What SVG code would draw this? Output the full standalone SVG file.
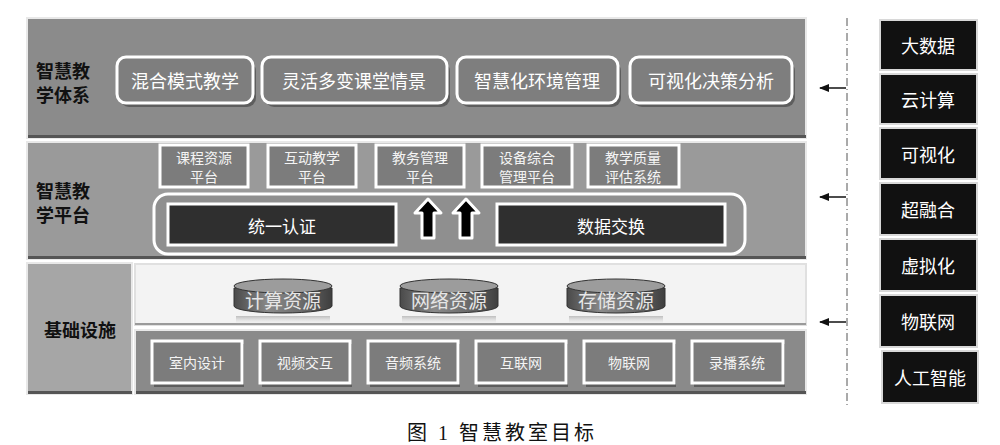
<svg xmlns="http://www.w3.org/2000/svg" width="1000" height="445" viewBox="0 0 1000 445">
<defs>
<style>
.t{font-family:"Noto Sans CJK SC","Noto Sans",sans-serif;text-anchor:middle;dominant-baseline:central}
.lbl{font-family:"Noto Sans CJK SC",sans-serif;font-weight:bold;font-size:18px;fill:#111}
.btn{fill:#7e7e7e;stroke:#fff;stroke-width:3}
.sh{fill:#3a3a3a;opacity:0.55}
.btxt{fill:#fff;font-size:18px}
.sbox{fill:#7c7c7c;stroke:#fff;stroke-width:3}
.stxt{fill:#f4f4f4;font-size:14px}
.dark{fill:#2f2f2f;stroke:#fff;stroke-width:3}
.dtxt{fill:#fff;font-size:17px}
.blk{fill:#111;stroke:#d8d8d8;stroke-width:2}
.ktxt{fill:#fff;font-size:18px}
.cyl-text{fill:#e6e6e6;font-size:19px}
</style>
<linearGradient id="cylg" x1="0" y1="0" x2="1" y2="0">
<stop offset="0" stop-color="#4a4a4a"/>
<stop offset="0.35" stop-color="#8a8a8a"/>
<stop offset="0.7" stop-color="#6a6a6a"/>
<stop offset="1" stop-color="#3e3e3e"/>
</linearGradient>
<linearGradient id="refl" x1="0" y1="0" x2="0" y2="1">
<stop offset="0" stop-color="#9a9a9a" stop-opacity="0.6"/>
<stop offset="1" stop-color="#dcdcdc" stop-opacity="0"/>
</linearGradient>
<marker id="ah" viewBox="0 0 10 10" refX="9" refY="5" markerWidth="7" markerHeight="7" orient="auto">
<path d="M0,1 L10,5 L0,9 Z" fill="#111"/>
</marker>
</defs>

<!-- section backgrounds -->
<g id="layer-top">
<rect x="27" y="18" width="779" height="120" fill="#8b8b8b" stroke="#e8e8e8" stroke-width="2"/>
<rect x="28" y="135" width="778" height="3" fill="#555"/>
<text class="lbl" x="36" y="70" dominant-baseline="central">智慧教</text>
<text class="lbl" x="36" y="94" dominant-baseline="central">学体系</text>
</g>
<g id="layer-mid">
<rect x="27" y="142" width="779" height="117" fill="#9a9a9a" stroke="#e8e8e8" stroke-width="2"/>
<rect x="28" y="256" width="778" height="3" fill="#555"/>
<text class="lbl" x="36" y="190" dominant-baseline="central">智慧教</text>
<text class="lbl" x="36" y="214" dominant-baseline="central">学平台</text>
</g>
<g id="layer-base">
<rect x="27" y="263" width="105" height="131" fill="#a6a6a6" stroke="#e8e8e8" stroke-width="2"/>
<rect x="28" y="391" width="104" height="3" fill="#555"/>
<text class="lbl" x="80" y="329" text-anchor="middle" dominant-baseline="central">基础设施</text>
<rect x="135" y="264" width="671" height="61" fill="#f3f3f3" stroke="#e0e0e0" stroke-width="2"/>
<rect x="135" y="323" width="671" height="2" fill="#9a9a9a"/>
<rect x="135" y="330" width="671" height="64" fill="#8a8a8a" stroke="#e8e8e8" stroke-width="2"/>
<rect x="136" y="391" width="670" height="3" fill="#555"/>
</g>

<!-- top buttons -->
<g id="n-hunhe"><rect class="sh" x="120" y="62" width="136" height="45" rx="9"/><rect class="btn" x="117" y="57" width="136" height="46" rx="9"/><text class="t btxt" x="185" y="80">混合模式教学</text></g>
<g id="n-linghuo"><rect class="sh" x="265" y="62" width="185" height="45" rx="9"/><rect class="btn" x="262" y="57" width="185" height="46" rx="9"/><text class="t btxt" x="354" y="80">灵活多变课堂情景</text></g>
<g id="n-zhihuihua"><rect class="sh" x="460" y="62" width="161" height="45" rx="9"/><rect class="btn" x="457" y="57" width="161" height="46" rx="9"/><text class="t btxt" x="537" y="80">智慧化环境管理</text></g>
<g id="n-keshihua"><rect class="sh" x="633" y="62" width="162" height="45" rx="9"/><rect class="btn" x="630" y="57" width="162" height="46" rx="9"/><text class="t btxt" x="711" y="80">可视化决策分析</text></g>

<!-- platform small boxes -->
<g id="n-kecheng"><rect class="sbox" x="160" y="145" width="88" height="42"/><text class="t stxt" x="204" y="157">课程资源</text><text class="t stxt" x="204" y="176">平台</text></g>
<g id="n-hudong"><rect class="sbox" x="268" y="145" width="88" height="42"/><text class="t stxt" x="312" y="157">互动教学</text><text class="t stxt" x="312" y="176">平台</text></g>
<g id="n-jiaowu"><rect class="sbox" x="376" y="145" width="88" height="42"/><text class="t stxt" x="420" y="157">教务管理</text><text class="t stxt" x="420" y="176">平台</text></g>
<g id="n-shebei"><rect class="sbox" x="482" y="145" width="90" height="42"/><text class="t stxt" x="527" y="157">设备综合</text><text class="t stxt" x="527" y="176">管理平台</text></g>
<g id="n-zhiliang"><rect class="sbox" x="588" y="145" width="91" height="42"/><text class="t stxt" x="633" y="157">教学质量</text><text class="t stxt" x="633" y="176">评估系统</text></g>

<!-- platform container -->
<g id="n-container">
<rect x="154" y="194" width="591" height="60" rx="14" fill="#8f8f8f" stroke="#fff" stroke-width="3"/>
</g>
<g id="n-renzheng"><rect class="dark" x="168" y="204" width="228" height="41"/><text class="t dtxt" x="282" y="225">统一认证</text></g>
<g id="n-jiaohuan"><rect class="dark" x="497" y="204" width="228" height="41"/><text class="t dtxt" x="611" y="225">数据交换</text></g>

<!-- cylinders -->
<g id="n-jisuan">
<path d="M234,288 L234,306 A49,7 0 0 0 332,306 L332,288 Z" fill="url(#cylg)" stroke="#333" stroke-width="1"/>
<ellipse cx="283" cy="286" rx="49" ry="7" fill="#9c9c9c" stroke="#333" stroke-width="1"/>
<path d="M236,316 L330,316 L330,324 L236,324 Z" fill="url(#refl)"/>
<text class="t cyl-text" x="283" y="299">计算资源</text>
</g>
<g id="n-wangluo">
<path d="M400,288 L400,306 A49,7 0 0 0 498,306 L498,288 Z" fill="url(#cylg)" stroke="#333" stroke-width="1"/>
<ellipse cx="449" cy="286" rx="49" ry="7" fill="#9c9c9c" stroke="#333" stroke-width="1"/>
<path d="M402,316 L496,316 L496,324 L402,324 Z" fill="url(#refl)"/>
<text class="t cyl-text" x="449" y="299">网络资源</text>
</g>
<g id="n-cunchu">
<path d="M567,288 L567,306 A49,7 0 0 0 665,306 L665,288 Z" fill="url(#cylg)" stroke="#333" stroke-width="1"/>
<ellipse cx="616" cy="286" rx="49" ry="7" fill="#9c9c9c" stroke="#333" stroke-width="1"/>
<path d="M569,316 L663,316 L663,324 L569,324 Z" fill="url(#refl)"/>
<text class="t cyl-text" x="616" y="299">存储资源</text>
</g>

<!-- bottom row -->
<g id="n-shinei"><rect class="sh" x="154" y="344" width="90" height="43"/><rect class="sbox" x="152" y="341" width="90" height="42"/><text class="t stxt" x="197" y="362">室内设计</text></g>
<g id="n-shipin"><rect class="sh" x="262" y="344" width="90" height="43"/><rect class="sbox" x="260" y="341" width="90" height="42"/><text class="t stxt" x="305" y="362">视频交互</text></g>
<g id="n-yinpin"><rect class="sh" x="370" y="344" width="90" height="43"/><rect class="sbox" x="368" y="341" width="90" height="42"/><text class="t stxt" x="413" y="362">音频系统</text></g>
<g id="n-hulianwang"><rect class="sh" x="478" y="344" width="90" height="43"/><rect class="sbox" x="476" y="341" width="90" height="42"/><text class="t stxt" x="521" y="362">互联网</text></g>
<g id="n-wulianwang"><rect class="sh" x="586" y="344" width="90" height="43"/><rect class="sbox" x="584" y="341" width="90" height="42"/><text class="t stxt" x="629" y="362">物联网</text></g>
<g id="n-lubo"><rect class="sh" x="694" y="344" width="91" height="43"/><rect class="sbox" x="692" y="341" width="91" height="42"/><text class="t stxt" x="737" y="362">录播系统</text></g>

<!-- right tech boxes -->
<g id="n-dashuju"><rect class="blk" x="880" y="20" width="97" height="50"/><text class="t ktxt" x="928" y="45">大数据</text></g>
<g id="n-yunjisuan"><rect class="blk" x="880" y="74" width="97" height="50"/><text class="t ktxt" x="928" y="99">云计算</text></g>
<g id="n-keshi"><rect class="blk" x="880" y="128" width="97" height="51"/><text class="t ktxt" x="928" y="154">可视化</text></g>
<g id="n-chaoronghe"><rect class="blk" x="880" y="183" width="97" height="52"/><text class="t ktxt" x="928" y="209">超融合</text></g>
<g id="n-xuni"><rect class="blk" x="880" y="239" width="97" height="52"/><text class="t ktxt" x="928" y="265">虚拟化</text></g>
<g id="n-wlw"><rect class="blk" x="880" y="295" width="97" height="52"/><text class="t ktxt" x="928" y="321">物联网</text></g>
<g id="n-ai"><rect class="blk" x="882" y="351" width="96" height="52"/><text class="t ktxt" x="930" y="377">人工智能</text></g>

<!-- connectors -->
<g id="connectors">
<path d="M428,199 L441,213 L434,213 L434,238 L422,238 L422,213 L415,213 Z" fill="#000" stroke="#fff" stroke-width="3" stroke-linejoin="round"/>
<path d="M466,199 L479,213 L472,213 L472,238 L460,238 L460,213 L453,213 Z" fill="#000" stroke="#fff" stroke-width="3" stroke-linejoin="round"/>
<line x1="847" y1="18" x2="847" y2="406" stroke="#555" stroke-width="1" stroke-dasharray="8,3,1,3"/>
<line x1="846" y1="88" x2="820" y2="88" stroke="#111" stroke-width="1.5" marker-end="url(#ah)"/>
<line x1="846" y1="197" x2="820" y2="197" stroke="#111" stroke-width="1.5" marker-end="url(#ah)"/>
<line x1="846" y1="322" x2="820" y2="322" stroke="#111" stroke-width="1.5" marker-end="url(#ah)"/>
</g>

<text x="502" y="433" text-anchor="middle" dominant-baseline="central" font-family="'Liberation Serif','Noto Sans CJK SC',serif" font-size="20" letter-spacing="3" fill="#111">图 1 智慧教室目标</text>
</svg>
